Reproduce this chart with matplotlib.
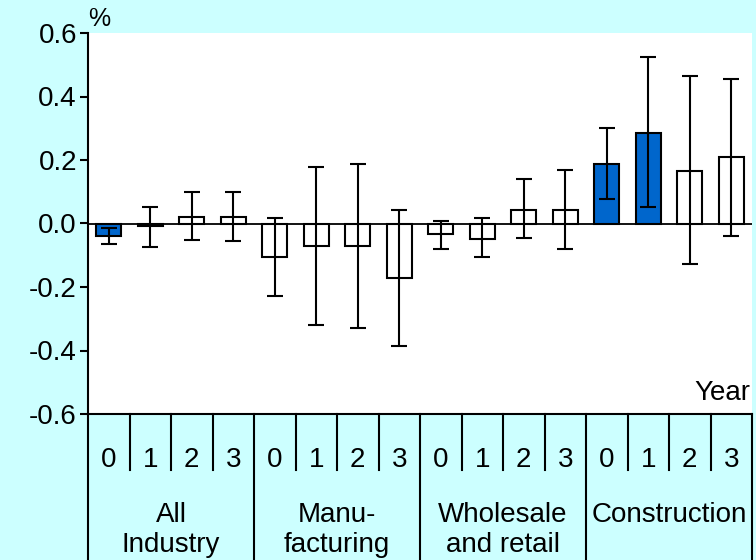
import numpy as np
import matplotlib.pyplot as plt

plt.rcParams['font.family'] = ['Liberation Sans', 'DejaVu Sans']

# Data
groups = ['All\nIndustry', 'Manu-\nfacturing', 'Wholesale\nand retail', 'Construction']
years = ['0', '1', '2', '3']
values = [-0.04, -0.007, 0.02, 0.02,
          -0.105, -0.072, -0.072, -0.172,
          -0.034, -0.049, 0.043, 0.043,
          0.187, 0.285, 0.166, 0.21]
err_low = [-0.065, -0.075, -0.053, -0.055,
           -0.228, -0.32, -0.329, -0.386,
           -0.08, -0.105, -0.047, -0.08,
           0.077, 0.052, -0.128, -0.04]
err_high = [-0.015, 0.052, 0.10, 0.10,
            0.017, 0.178, 0.187, 0.043,
            0.007, 0.018, 0.14, 0.167,
            0.30, 0.524, 0.465, 0.456]
highlight = [True, False, False, False,
             False, False, False, False,
             False, False, False, False,
             True, True, False, False]

bg = '#CCFFFF'
blue = '#0066CC'

fig = plt.figure(figsize=(7.56, 5.6), dpi=100, facecolor=bg)
ax = fig.add_axes([88 / 756, 146 / 560, 664 / 756, 381 / 560])

x = np.arange(len(values))
vals = np.array(values)
lo = vals - np.array(err_low)
hi = np.array(err_high) - vals
colors = [blue if h else 'white' for h in highlight]

ax.bar(x, vals, width=0.6, color=colors, edgecolor='black', linewidth=1.5, zorder=2)
ax.errorbar(x, vals, yerr=[lo, hi], fmt='none', ecolor='black', elinewidth=1.5,
            capsize=6, capthick=1.5, zorder=3)
ax.axhline(0, color='black', lw=1.3, zorder=4)

ax.set_xlim(-0.5, len(values) - 0.5)
ax.set_ylim(-0.6, 0.6)
ax.set_yticks(np.arange(-0.6, 0.61, 0.2))
ax.set_yticklabels([f'{v:.1f}' for v in np.arange(-0.6, 0.61, 0.2)])
ax.tick_params(axis='y', labelsize=20, length=6, width=1.5, pad=2)
ax.set_xticks([])
for s in ['top', 'right']:
    ax.spines[s].set_visible(False)
for s in ['left', 'bottom']:
    ax.spines[s].set_linewidth(1.5)

ax.text(0.0, 1.005, '%', transform=ax.transAxes, fontsize=18, ha='left', va='bottom')
ax.text(0.997, 0.037, 'Year', transform=ax.transAxes, fontsize=20, ha='right', va='baseline')

# category table below the axis
tr = ax.get_xaxis_transform()
n_years = len(years)
for i in range(len(values)):
    ax.text(x[i], -0.139, years[i % n_years], transform=tr, fontsize=20,
            ha='center', va='baseline')
    if i % n_years != 0:
        ax.plot([i - 0.5, i - 0.5], [0, -0.147], transform=tr, color='black',
                lw=1.5, clip_on=False)
for g in range(len(groups) + 1):
    xb = g * n_years - 0.5
    ax.plot([xb, xb], [0, -0.4], transform=tr, color='black', lw=1.5, clip_on=False)
for g, name in enumerate(groups):
    ax.text(g * n_years + (n_years - 1) / 2, -0.231, name, transform=tr, fontsize=20,
            ha='center', va='top', linespacing=1.2)

fig.savefig('out.png', dpi=100, facecolor=bg)
